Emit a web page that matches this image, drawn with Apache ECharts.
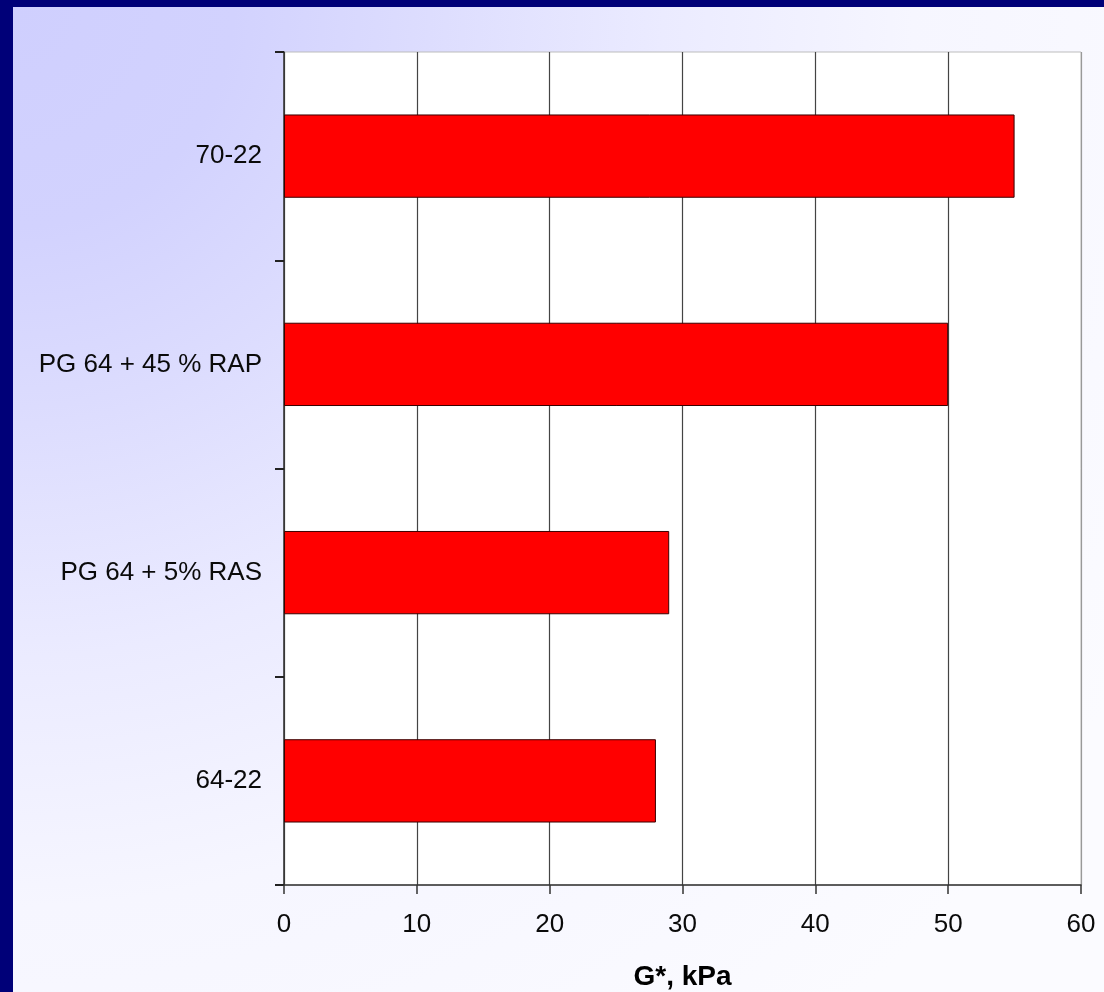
<!DOCTYPE html>
<html>
<head>
<meta charset="utf-8">
<script src="https://cdn.jsdelivr.net/npm/echarts@6/dist/echarts.min.js"></script>
<style>
  html, body { margin: 0; padding: 0; }
  body { width: 1104px; height: 992px; background: #000078; position: relative; overflow: hidden; }
  #panel {
    position: absolute; left: 13px; top: 7px; right: 0; bottom: 0;
    background: radial-gradient(circle at 0 0, #cfcffe 0px, #d2d2fe 220px, #dcdcfe 400px, #ebebff 650px, #f6f6ff 900px, #fbfbff 1300px);
  }
  #chart { position: absolute; left: 0; top: 0; width: 1104px; height: 992px; }
</style>
</head>
<body>
<div id="panel"></div>
<div id="chart"></div>
<script>
// Binder stiffness by blend
const categories = ['70-22', 'PG 64 + 45 % RAP', 'PG 64 + 5% RAS', '64-22'];
const gStarValues = [55, 50, 29, 28];
const xTicks = [0, 10, 20, 30, 40, 50, 60];
const xAxisTitle = 'G*, kPa';

const FONT = '"Liberation Sans", Arial, sans-serif';

const chart = echarts.init(document.getElementById('chart'), null, { renderer: 'canvas' });

chart.setOption({
  backgroundColor: 'transparent',
  animation: false,
  grid: {
    left: 284, top: 52, right: 23, bottom: 107,
    outerBoundsMode: 'none',
    containLabel: false,
    show: true,
    backgroundColor: '#ffffff',
    borderColor: '#bdbdbd',
    borderWidth: 1
  },
  xAxis: {
    type: 'value',
    min: xTicks[0],
    max: xTicks[xTicks.length - 1],
    interval: xTicks[1] - xTicks[0],
    name: xAxisTitle,
    nameLocation: 'middle',
    nameGap: 78,
    nameTextStyle: { fontFamily: FONT, fontSize: 28, fontWeight: 'bold', color: '#000' },
    axisLine: { show: true, lineStyle: { color: '#333', width: 1.5 } },
    axisTick: { show: true, length: 9, lineStyle: { color: '#333', width: 1.5 } },
    axisLabel: { margin: 27, fontFamily: FONT, fontSize: 26, color: '#0a0a0a' },
    splitLine: {
      show: true,
      lineStyle: { color: ['#444', '#444', '#444', '#444', '#444', '#444', '#999'], width: 1.2 }
    }
  },
  yAxis: {
    type: 'category',
    data: categories,
    inverse: true,
    axisLine: { show: true, lineStyle: { color: '#333', width: 1.5 } },
    axisTick: { show: true, length: 9, lineStyle: { color: '#222', width: 2 } },
    axisLabel: { margin: 22, fontFamily: FONT, fontSize: 26, color: '#0a0a0a' },
    splitLine: { show: false }
  },
  series: [{
    type: 'bar',
    data: gStarValues,
    barWidth: '40%',
    itemStyle: { color: '#ff0000', borderColor: '#3a0000', borderWidth: 1 }
  }]
});
</script>
</body>
</html>
